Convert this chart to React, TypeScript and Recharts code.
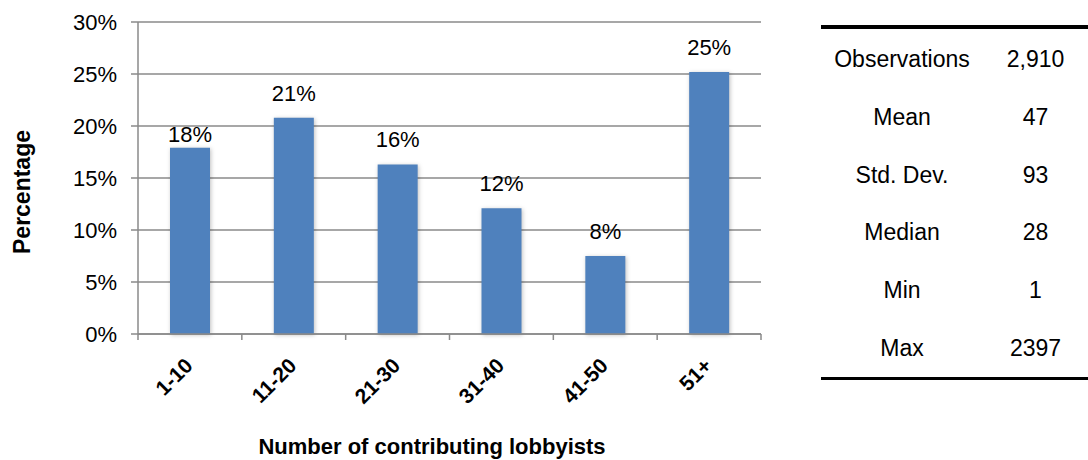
import React from "react";
import { BarChart, Bar, XAxis, YAxis, CartesianGrid, LabelList, Label } from "recharts";

// lobbyist-count buckets and their share of all observations
const categories = ["1-10", "11-20", "21-30", "31-40", "41-50", "51+"];
const shares = [17.9, 20.8, 16.3, 12.1, 7.5, 25.2];
const shareLabels = ["18%", "21%", "16%", "12%", "8%", "25%"];
const yTicks = [0, 5, 10, 15, 20, 25, 30];

// summary stats table on the right
const statNames = ["Observations", "Mean", "Std. Dev.", "Median", "Min", "Max"];
const statValues = ["2,910", "47", "93", "28", "1", "2397"];

const FONT = "'Liberation Sans', Arial, Helvetica, sans-serif";
const AXIS_GRAY = "#8a8a8a";
const BAR_BLUE = "#4F81BD";

const CHART_W = 800;
const CHART_H = 460;
const MARGIN = { top: 22, right: 39, bottom: 0, left: 0 };
const Y_AXIS_W = 138;
const X_AXIS_H = 126;
const PLOT_W = CHART_W - MARGIN.left - MARGIN.right - Y_AXIS_W;
const BAND = PLOT_W / categories.length;

const data = categories.map((c, i) => ({
  category: c,
  share: shares[i],
  label: shareLabels[i],
}));

// Excel style: tick marks sit between categories, labels rotated 45°
function XTick(props: any) {
  const { x, y, payload, index } = props;
  const half = BAND / 2;
  const last = index === categories.length - 1;
  return (
    <g>
      <line x1={x - half} x2={x - half} y1={y} y2={y + 6} stroke={AXIS_GRAY} strokeWidth={1.5} />
      {last && (
        <line x1={x + half} x2={x + half} y1={y} y2={y + 6} stroke={AXIS_GRAY} strokeWidth={1.5} />
      )}
      <text
        transform={`translate(${x + 4},${y + 33}) rotate(-45)`}
        textAnchor="end"
        fontFamily={FONT}
        fontWeight="bold"
        fontSize={21}
        fill="#000"
      >
        {payload.value}
      </text>
    </g>
  );
}

function ValueLabel(props: any) {
  const { x, y, width, value, index } = props;
  // the first label sits lower in the original
  const lift = index === 0 ? 6 : 17;
  return (
    <text x={x + width / 2} y={y - lift} textAnchor="middle" fontFamily={FONT} fontSize={22} fill="#000">
      {value}
    </text>
  );
}

function StatsTable() {
  return (
    <div
      style={{
        position: "absolute",
        left: 821,
        top: 25,
        width: 267,
        borderTop: "4px solid #000",
        borderBottom: "3px solid #000",
        paddingTop: 2,
        fontFamily: FONT,
        fontSize: 23,
        color: "#000",
      }}
    >
      {statNames.map((name, i) => (
        <div key={name} style={{ display: "flex", height: 57.7, alignItems: "center" }}>
          <div style={{ width: 162, textAlign: "center" }}>{name}</div>
          <div style={{ width: 105, textAlign: "center" }}>{statValues[i]}</div>
        </div>
      ))}
    </div>
  );
}

export default function App() {
  return (
    <div style={{ position: "absolute", left: 0, top: 0, width: 1088, height: 460, background: "#fff" }}>
      <BarChart width={CHART_W} height={CHART_H} data={data} margin={MARGIN}>
        <CartesianGrid vertical={false} stroke={AXIS_GRAY} strokeWidth={1.5} />
        <XAxis
          dataKey="category"
          height={X_AXIS_H}
          axisLine={{ stroke: AXIS_GRAY, strokeWidth: 1.5 }}
          tickLine={false}
          tickSize={0}
          tickMargin={0}
          interval={0}
          tick={<XTick />}
        >
          <Label
            content={() => (
              <text
                x={432}
                y={454}
                textAnchor="middle"
                fontFamily={FONT}
                fontWeight="bold"
                fontSize={22}
                fill="#000"
              >
                Number of contributing lobbyists
              </text>
            )}
          />
        </XAxis>
        <YAxis
          width={Y_AXIS_W}
          domain={[0, 30]}
          ticks={yTicks}
          interval={0}
          tickFormatter={(v) => `${v}%`}
          axisLine={{ stroke: AXIS_GRAY, strokeWidth: 1.5 }}
          tickLine={{ stroke: AXIS_GRAY, strokeWidth: 1.5 }}
          tickSize={7}
          tickMargin={14}
          tick={{ fill: "#000", fontSize: 22, fontFamily: FONT }}
        >
          <Label
            content={() => (
              <text
                transform="translate(30,192) rotate(-90)"
                textAnchor="middle"
                fontFamily={FONT}
                fontWeight="bold"
                fontSize={23}
                fill="#000"
              >
                Percentage
              </text>
            )}
          />
        </YAxis>
        <Bar
          dataKey="share"
          fill={BAR_BLUE}
          barSize={40}
          isAnimationActive={false}
          style={{ filter: "drop-shadow(1px 1px 2px rgba(0,0,0,0.25))" }}
        >
          <LabelList dataKey="label" content={<ValueLabel />} />
        </Bar>
      </BarChart>
      <StatsTable />
    </div>
  );
}
